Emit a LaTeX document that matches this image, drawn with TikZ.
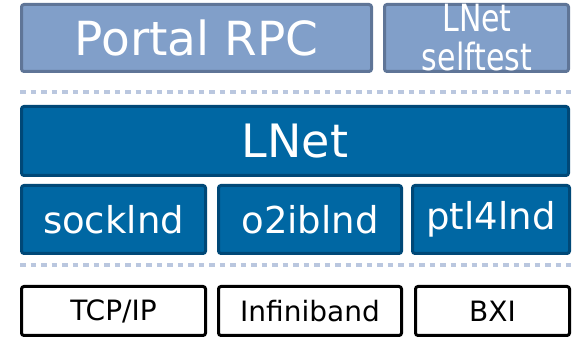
\documentclass[tikz,border=0pt]{standalone}
\usepackage{fontspec}
\setmainfont{DejaVu Sans}
\definecolor{portalfill}{HTML}{819FC9}
\definecolor{portaldraw}{HTML}{5F7597}
\definecolor{lnetfill}{HTML}{0067A3}
\definecolor{lnetdraw}{HTML}{004877}
\definecolor{dotcol}{HTML}{BAC7DF}
\tikzset{
  box/.style={rectangle, rounded corners=2.5pt, line width=3pt, inner sep=0pt, align=center},
  portalbox/.style={box, fill=portalfill, draw=portaldraw, text=white},
  lnetbox/.style={box, fill=lnetfill, draw=lnetdraw, text=white},
  hwbox/.style={box, fill=white, draw=black, text=black, font=\fontsize{28}{30}\selectfont},
  sep/.style={draw=dotcol, line width=4.5pt, dash pattern=on 5.5pt off 5pt},
}
\begin{document}
\begin{tikzpicture}[x=1pt,y=1pt]
\useasboundingbox (0,0) rectangle (573,339);
\node[portalbox, minimum width=350pt, minimum height=67pt, font=\fontsize{47}{50}\selectfont] (portal) at (196.5,301) {Portal RPC};
\node[portalbox, minimum width=184pt, minimum height=67pt] (selftest) at (476.5,301) {};
\node[inner sep=0pt, text=white, font=\fontsize{30}{28.8}\selectfont] (selftestlabel) at (477,296.2)
  {\scalebox{1}[1.25]{\begin{tabular}{@{}c@{}}LNet\\selftest\end{tabular}}};
\coordinate (s1l) at (20,247);
\coordinate (s1r) at (571,247);
\draw[sep] (s1l) -- (s1r);
\node[lnetbox, minimum width=547pt, minimum height=69pt, font=\fontsize{46}{50}\selectfont] (lnet) at (295,198) {LNet};
\node[lnetbox, minimum width=184pt, minimum height=68pt, font=\fontsize{37}{40}\selectfont] (sock) at (113.5,119.5) {socklnd};
\node[lnetbox, minimum width=183pt, minimum height=68pt, font=\fontsize{37}{40}\selectfont] (o2ib) at (310,119.5) {o2iblnd};
\node[lnetbox, minimum width=157pt, minimum height=68pt, font=\fontsize{37}{40}\selectfont] (ptl) at (491,119.5) {ptl4lnd};
\coordinate (s2l) at (20,74);
\coordinate (s2r) at (571,74);
\draw[sep] (s2l) -- (s2r);
\node[hwbox, minimum width=184pt, minimum height=49pt] (tcp) at (113.5,28) {TCP/IP};
\node[hwbox, minimum width=183pt, minimum height=49pt] (ib) at (310,28) {Infiniband};
\node[hwbox, minimum width=154pt, minimum height=49pt] (bxi) at (492.5,28) {BXI};
\end{tikzpicture}
\end{document}
